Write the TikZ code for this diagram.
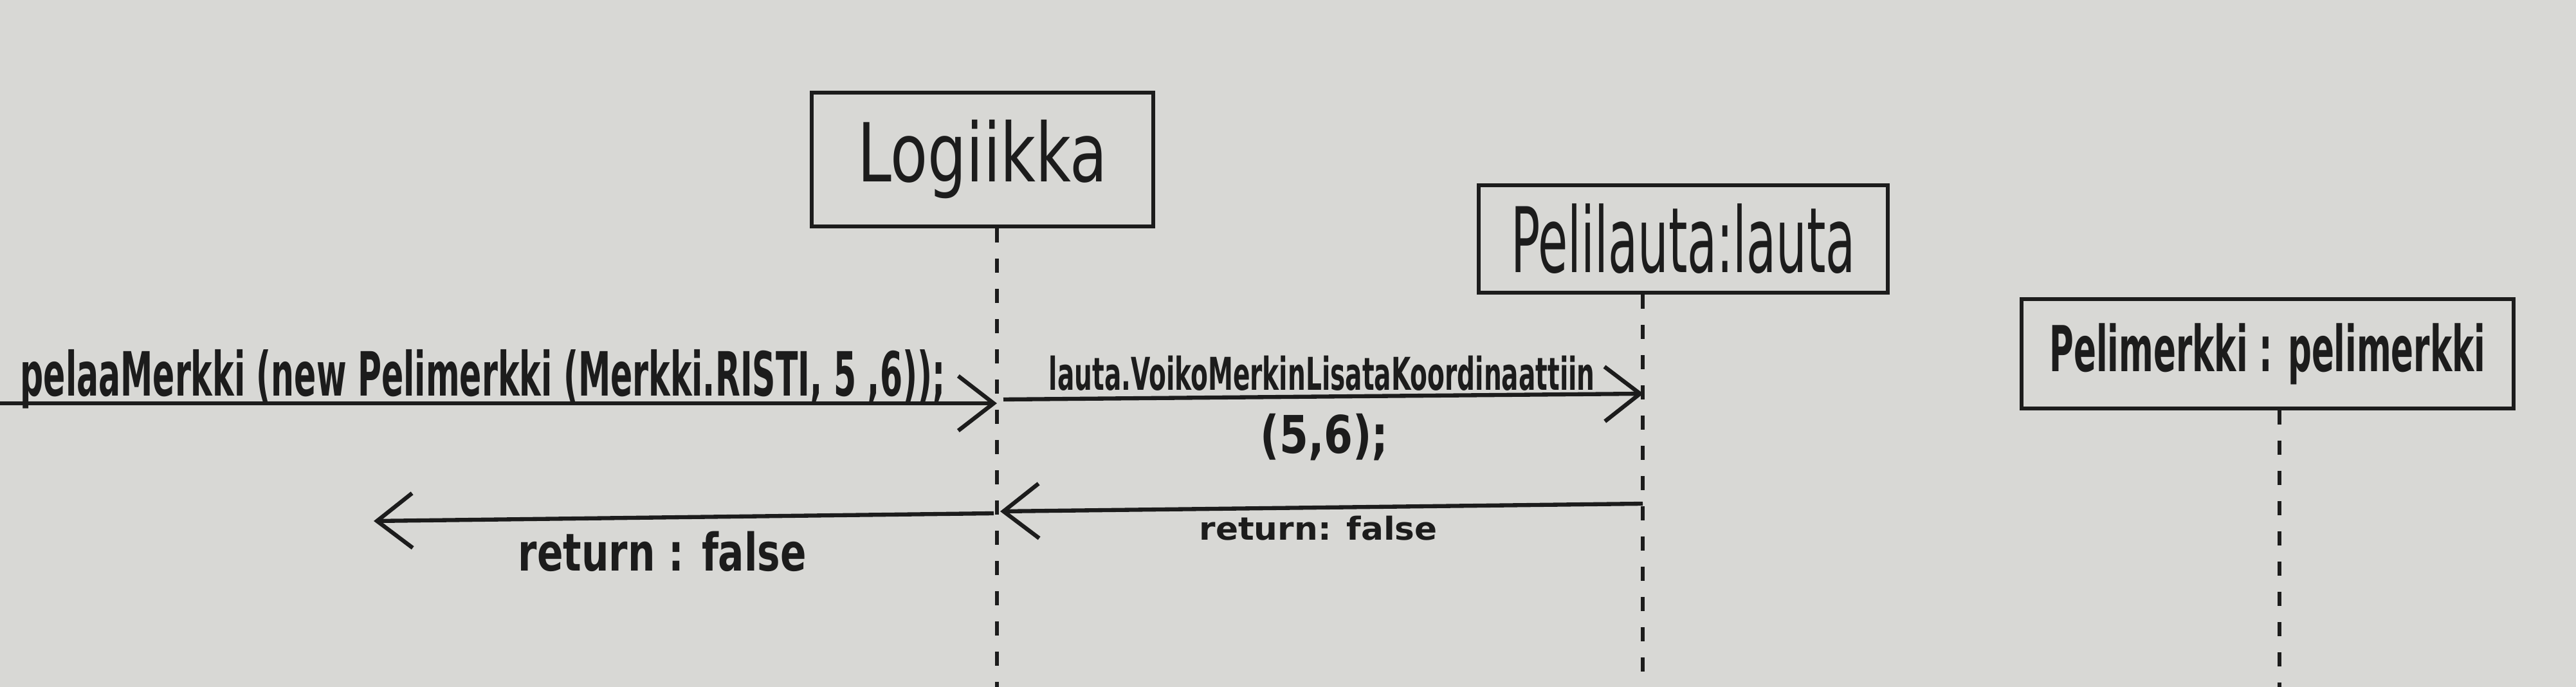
\documentclass[tikz,border=0pt]{standalone}
\usepackage{fontspec}
\setmainfont{DejaVu Sans Condensed}
\usepackage{graphicx}
\usetikzlibrary{arrows.meta,positioning}
\definecolor{Board}{HTML}{D8D8D5}
\definecolor{Ink}{HTML}{1C1C1C}
% handwriting: fixed width, natural height
\newcommand{\hand}[3]{\resizebox{#1}{\height}{\fontsize{#2}{#2}\selectfont #3}}

\begin{document}
\begin{tikzpicture}[
  object/.style={draw=Ink,line width=1.9pt,inner sep=0pt,text=Ink},
  lifeline/.style={draw=Ink,line width=1.6pt,dash pattern=on 2.2mm off 2.5mm},
  msg/.style={draw=Ink,line width=1.8pt,-{Straight Barb[length=5.5mm,width=8.5mm,line width=1.8pt]}},
  msgtext/.style={inner sep=0pt,anchor=base west,text=Ink,font=\bfseries}
]
\fill[Board] (0,0) rectangle (40.05,10.68);
\useasboundingbox (0,0) rectangle (40.05,10.68);

% objects
\node[object,minimum width=5.31cm,minimum height=2.08cm] (logiikka) at (15.275,8.20) {\hand{3.88cm}{36pt}{Logiikka}};
\node[object,minimum width=6.36cm,minimum height=1.67cm] (lauta) at (26.17,6.965) {\hand{5.36cm}{40pt}{Pelilauta:lauta}};
\node[object,minimum width=7.65cm,minimum height=1.70cm,font=\bfseries] (pelimerkki) at (35.255,5.18) {\hand{6.78cm}{28pt}{Pelimerkki : pelimerkki}};

% lifelines
\coordinate (logend) at (15.50,0);
\coordinate (lautaend) at (25.54,0);
\coordinate (merkkiend) at (35.44,0);
\draw[lifeline] (logiikka.south -| logend) -- (logend);
\draw[lifeline] (lauta.south -| lautaend) -- (lautaend);
\draw[lifeline] (pelimerkki.south -| merkkiend) -- (merkkiend);

% messages
\coordinate (call1) at (0,4.41);
\coordinate (call2a) at (15.60,4.47);
\coordinate (call2b) at (25.55,4.56);
\coordinate (ret1a) at (25.54,2.85);
\coordinate (ret1b) at (15.55,2.73);
\coordinate (ret2a) at (15.45,2.70);
\coordinate (ret2b) at (5.81,2.58);
\draw[msg] (call1) -- (call1 -| logend);
\draw[msg] (call2a) -- (call2b);
\draw[msg] (ret1a) -- (ret1b);
\draw[msg] (ret2a) -- (ret2b);

\node[msgtext] (call1text) at (0.31,4.52) {\hand{14.38cm}{27pt}{pelaaMerkki (new Pelimerkki (Merkki.RISTI, 5 ,6));}};
\node[msgtext] (call2text) at (16.30,4.61) {\hand{8.49cm}{20pt}{lauta.VoikoMerkinLisataKoordinaattiin}};
\node[msgtext] (call2args) at (19.59,3.63) {\hand{1.99cm}{23pt}{(5,6);}};
\node[msgtext] (ret1text) at (18.64,2.28) {\hand{3.70cm}{14pt}{return: false}};
\node[msgtext] (ret2text) at (8.05,1.80) {\hand{4.48cm}{23pt}{return : false}};
\end{tikzpicture}
\end{document}
